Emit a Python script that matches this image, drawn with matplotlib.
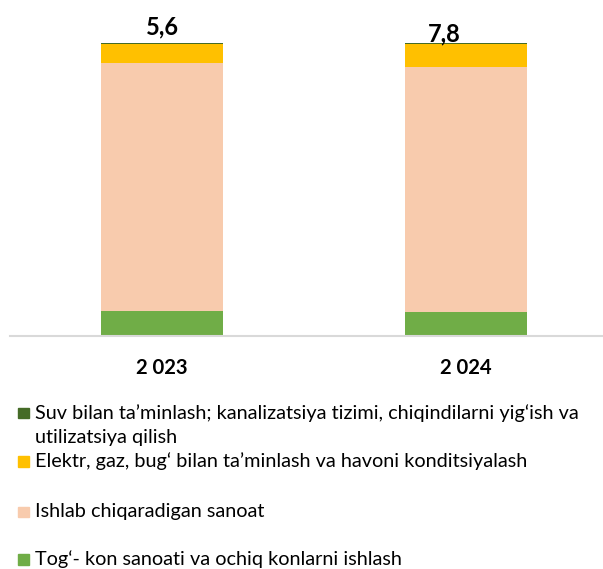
import matplotlib
matplotlib.use("Agg")
import matplotlib.pyplot as plt
from matplotlib.patches import Rectangle
import numpy as np

years = ["2 023", "2 024"]
top_labels = ["5,6", "7,8"]
series_names = [
    "Tog\u2018- kon sanoati va ochiq konlarni ishlash",
    "Ishlab chiqaradigan sanoat",
    "Elektr, gaz, bug\u2018 bilan ta\u2019minlash va havoni konditsiyalash",
    "Suv bilan ta\u2019minlash; kanalizatsiya tizimi, chiqindilarni yig\u2018ish va\nutilizatsiya qilish",
]
mining = [8.5, 8.1]
manufacturing = [84.6, 83.9]
energy = [6.6, 7.6]
water = [0.3, 0.4]
colors = ["#70AD47", "#F8CBAD", "#FFC000", "#456B27"]

plt.rcParams['font.family'] = ['Lato', 'DejaVu Sans']

W, H = 603, 569
fig = plt.figure(figsize=(W / 100, H / 100), dpi=100)
ax = fig.add_axes([10 / W, 1 - 336 / H, (603 - 10) / W, (336 - 43.3) / H])

x = np.arange(len(years))
bottom = np.zeros(len(years))
for vals, c in zip([mining, manufacturing, energy, water], colors):
    ax.bar(x, vals, width=0.40, bottom=bottom, color=c, linewidth=0, zorder=2)
    bottom += np.array(vals)

ax.set_xlim(-0.5, 1.4507)
ax.set_ylim(0, 100)
for s in ["top", "right", "left"]:
    ax.spines[s].set_visible(False)
ax.spines["bottom"].set_color("#D9D9D9")
ax.spines["bottom"].set_linewidth(1.5)
ax.set_yticks([])
ax.set_xticks(x)
ax.set_xticklabels(years, fontsize=14.6, fontweight="bold")
ax.tick_params(axis="x", length=0, pad=16)

label_off = [(0.0, 105.6), (-0.07, 103.2)]
for i, t in enumerate(top_labels):
    ax.text(x[i] + label_off[i][0], label_off[i][1], t, ha="center", va="center",
            fontsize=17, fontweight="bold")

# legend (manual layout)
fs = 14.3
rows = [(413, 3), (461.3, 2), (512, 1), (559.5, 0)]
for yc, idx in rows:
    fig.patches.append(Rectangle((18.3 / W, 1 - (yc + 5.3) / H), 10.6 / W, 10.6 / H,
                                 transform=fig.transFigure, color=colors[idx]))
    if idx != 3:
        fig.text(35 / W, 1 - yc / H, series_names[idx], ha="left", va="center", fontsize=fs)

first, second = series_names[3].split("\n")
fig.text(35 / W, 1 - 413 / H, first, ha="left", va="center", fontsize=fs)
fig.text(35 / W, 1 - 438 / H, second, ha="left", va="center", fontsize=fs)

fig.savefig("out.png", dpi=100)
